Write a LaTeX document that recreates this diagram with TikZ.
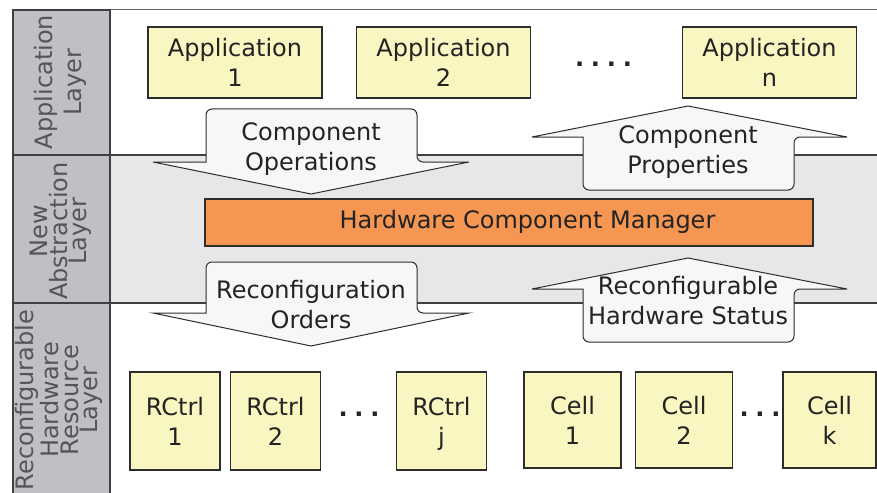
\documentclass[tikz,border=0pt]{standalone}
\usepackage{fontspec}
\setmainfont{DejaVu Sans}
\usetikzlibrary{positioning}

\definecolor{layergray}{RGB}{191,192,196}
\definecolor{bandgray}{RGB}{230,231,233}
\definecolor{boxfill}{RGB}{250,246,193}
\definecolor{arrowfill}{RGB}{247,247,247}
\definecolor{mgrorange}{RGB}{245,151,83}
\definecolor{boxline}{RGB}{45,45,45}
\definecolor{sepline}{RGB}{64,64,66}
\definecolor{textdark}{RGB}{35,35,35}
\definecolor{layertext}{RGB}{85,85,88}

\begin{document}
\begin{tikzpicture}[
    x=0.5pt, y=-0.5pt,
    every node/.style={font=\fontsize{12}{15}\selectfont, text=textdark, align=center},
    layerlabel/.style={rotate=90, text=layertext, font=\fontsize{12}{9.8}\selectfont},
    appbox/.style={draw=boxline, fill=boxfill, line width=0.75pt, inner sep=0pt, minimum width=87pt, minimum height=35.5pt},
    hwbox/.style={appbox, minimum width=45pt, minimum height=49pt},
    cellbox/.style={appbox, minimum width=48.5pt, minimum height=48pt},
    mgrbox/.style={draw=boxline, fill=mgrorange, line width=0.75pt, minimum width=304pt, minimum height=23.5pt},
    blockarrow/.style={draw=boxline, fill=arrowfill, line width=0.5pt},
    layerline/.style={draw=sepline, line width=1pt},
    dotrow/.style={font=\fontsize{12}{15}\selectfont\bfseries}
]
\useasboundingbox (0,0) rectangle (877,492);

% layers
\fill[bandgray] (110,155) rectangle (877,303);
\draw[draw=sepline!80, line width=0.5pt] (110,10) -- (877,10);
\draw[layerline] (110,155) -- (877,155);
\draw[layerline] (110,303) -- (877,303);
\draw[layerline, fill=layergray] (13,10) rectangle (110,500);
\draw[layerline] (13,155) -- (110,155);
\draw[layerline] (13,303) -- (110,303);

\node (applayer) [layerlabel, font=\fontsize{12}{14.5}\selectfont] at (60,82) {Application\\Layer};
\node (newlayer) [layerlabel] at (61,231) {New\\Abstraction\\Layer};
\node (hwlayer) [layerlabel] at (59,400) {Reconfigurable\\Hardware\\Resource\\Layer};

% applications
\node (app1) [appbox] at (235,62.5) {Application\\1};
\node (app2) [appbox, right=16.5pt of app1] {Application\\2};
\node (appn) [appbox] at (769.5,62.5) {Application\\n};
\node (appdots) [dotrow] at (603.5,64.5) {.\hspace{3.4pt}.\hspace{3.4pt}.\hspace{3.4pt}.};

% manager
\node (mgr) [mgrbox] at (509,222.5) {};
\node (mgrlabel) at (527.5,222) {Hardware Component Manager};

% block arrows
\draw[blockarrow] (206,162) [rounded corners=3pt] -- (206,109) -- (417,109) -- (417,162) [sharp corners] -- (469,162) -- (311,194) -- (153,162) -- cycle;
\node (opstext) at (311,149) {Component\\Operations};

\draw[blockarrow] (206,313) [rounded corners=3pt] -- (206,262) -- (417,262) -- (417,313) [sharp corners] -- (469,313) -- (311,346) -- (153,313) -- cycle;
\node (orderstext) at (311,305) {Reconfiguration\\Orders};

\draw[blockarrow] (583,137) [rounded corners=3pt] -- (583,190) -- (794,190) -- (794,137) [sharp corners] -- (847,137) -- (688,106) -- (532,137) -- cycle;
\node (propstext) at (688,152) {Component\\Properties};

\draw[blockarrow] (583,289) [rounded corners=3pt] -- (583,342) -- (794,342) -- (794,289) [sharp corners] -- (847,289) -- (688,258) -- (532,289) -- cycle;
\node (statustext) at (688,301) {Reconfigurable\\Hardware Status};

% hardware resources
\node (rc1) [hwbox] at (175,421) {RCtrl\\1};
\node (rc2) [hwbox, right=4.5pt of rc1] {RCtrl\\2};
\node (rcj) [hwbox] at (441.5,421) {RCtrl\\\raisebox{0pt}[\height][0pt]{j}};
\node (rcdots) [dotrow] at (359,414) {.\hspace{3.4pt}.\hspace{3.4pt}.};

\node (cell1) [cellbox] at (572.5,420) {Cell\\1};
\node (cell2) [cellbox, right=6.5pt of cell1] {Cell\\2};
\node (cellk) [cellbox, minimum width=46.5pt] at (829.5,420) {Cell\\k};
\node (celldots) [dotrow] at (760,414) {.\hspace{3.4pt}.\hspace{3.4pt}.};

\end{tikzpicture}
\end{document}
